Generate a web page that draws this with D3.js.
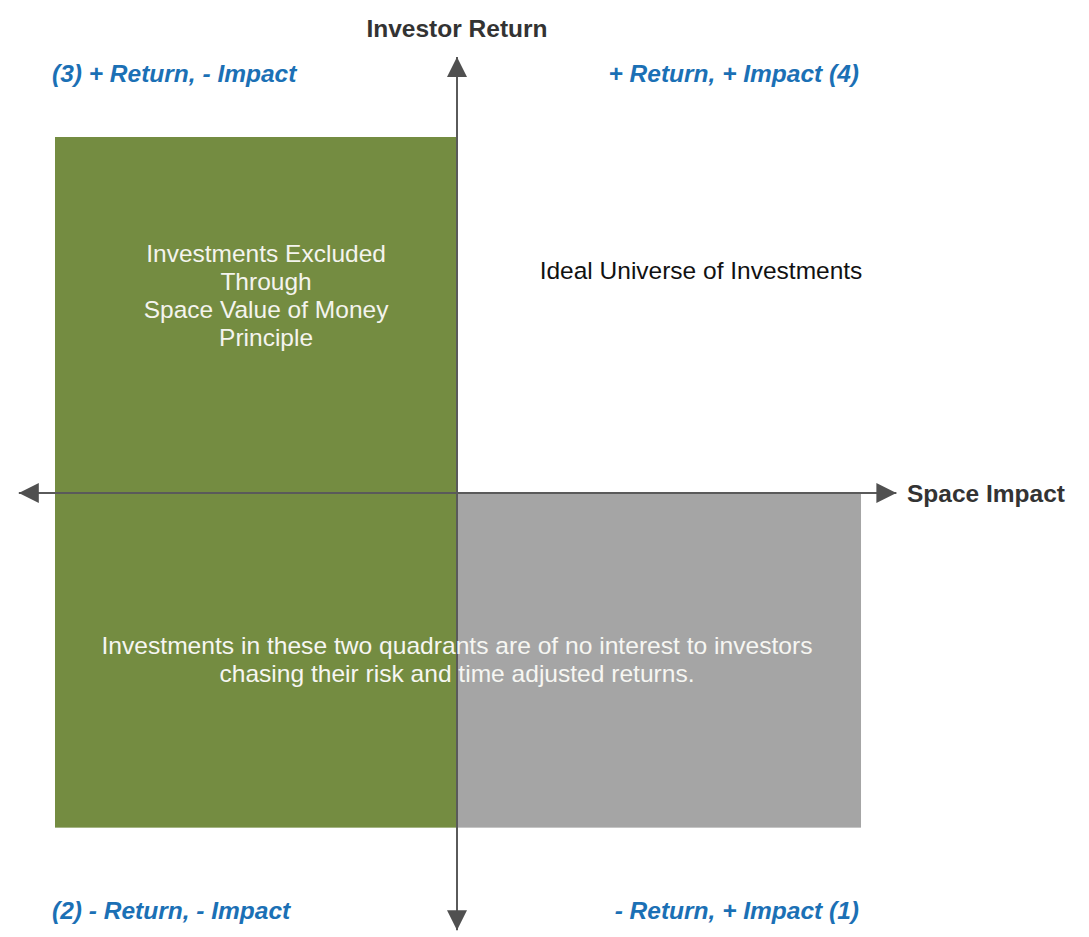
<!DOCTYPE html>
<html><head><meta charset="utf-8">
<script src="https://cdn.jsdelivr.net/npm/d3@7"></script>
<style>
body{margin:0;background:#fff;}
svg{display:block;}
text{font-family:"Liberation Sans", Arial, sans-serif;}
</style></head>
<body><svg id="chart" width="1089" height="937"></svg>
<script>
// Quadrant shaded regions (data units: x = Space Impact, y = Investor Return)
const regionNames = ["excluded", "noInterest"];
const regionX0 = [-1, 0];
const regionX1 = [0, 1.005];
const regionY0 = [-0.94, -0.94];
const regionY1 = [1, 0];
const regionColors = ["#748c41", "#a5a5a5"];

const axisTitles = ["Investor Return", "Space Impact"];
const quadrantLabels = ["(3) + Return, - Impact", "+ Return, + Impact (4)", "(2) - Return, - Impact", "- Return, + Impact (1)"];
const quadrantSide = [-1, 1, -1, 1];
const quadrantVert = [1, 1, -1, -1];

const excludedText = ["Investments Excluded", "Through", "Space Value of Money", "Principle"];
const idealText = ["Ideal Universe of Investments"];
const noInterestText = ["Investments in these two quadrants are of no interest to investors", "chasing their risk and time adjusted returns."];
const noInterestWidths = [711, 475];

const svg = d3.select("#chart");
const x = d3.scaleLinear().domain([-1, 1]).range([55, 859]);
const y = d3.scaleLinear().domain([-1, 1]).range([849, 137]);

// regions
svg.selectAll("rect.region").data(regionNames).enter().append("rect")
  .attr("class", "region")
  .attr("x", (d, i) => x(regionX0[i]))
  .attr("width", (d, i) => x(regionX1[i]) - x(regionX0[i]))
  .attr("y", (d, i) => y(regionY1[i]))
  .attr("height", (d, i) => y(regionY0[i]) - y(regionY1[i]))
  .attr("fill", (d, i) => regionColors[i]);

// arrow markers
const defs = svg.append("defs");
defs.append("marker").attr("id", "arr").attr("viewBox", "0 0 10 10")
  .attr("refX", 10).attr("refY", 5).attr("markerWidth", 26).attr("markerHeight", 20)
  .attr("markerUnits", "userSpaceOnUse").attr("orient", "auto")
  .append("path").attr("d", "M0,0 L10,5 L0,10 Z").attr("fill", "#505050");

const axisColor = "#5a5a5a";
svg.append("line").attr("x1", x(0)).attr("x2", x(1.093)).attr("y1", y(0)).attr("y2", y(0))
  .attr("stroke", axisColor).attr("stroke-width", 2).attr("marker-end", "url(#arr)");
svg.append("line").attr("x1", x(0)).attr("x2", x(-1.09)).attr("y1", y(0)).attr("y2", y(0))
  .attr("stroke", axisColor).attr("stroke-width", 2).attr("marker-end", "url(#arr)");
svg.append("line").attr("x1", x(0)).attr("x2", x(0)).attr("y1", y(0)).attr("y2", y(1.225))
  .attr("stroke", axisColor).attr("stroke-width", 2).attr("marker-end", "url(#arr)");
svg.append("line").attr("x1", x(0)).attr("x2", x(0)).attr("y1", y(0)).attr("y2", y(-1.228))
  .attr("stroke", axisColor).attr("stroke-width", 2).attr("marker-end", "url(#arr)");

// axis titles
svg.append("text").attr("x", x(0)).attr("y", 37).attr("text-anchor", "middle")
  .attr("font-weight", "bold").attr("font-size", 24.5).attr("fill", "#333").text(axisTitles[0]);
svg.append("text").attr("x", 907).attr("y", y(0)).attr("dy", "0.35em").attr("text-anchor", "start")
  .attr("font-weight", "bold").attr("font-size", 24.5).attr("fill", "#333").text(axisTitles[1]);

// quadrant labels
svg.selectAll("text.ql").data(quadrantLabels).enter().append("text")
  .attr("class", "ql")
  .attr("x", (d, i) => quadrantSide[i] < 0 ? 52 : 859)
  .attr("y", (d, i) => quadrantVert[i] > 0 ? 82 : 919)
  .attr("text-anchor", (d, i) => quadrantSide[i] < 0 ? "start" : "end")
  .attr("font-weight", "bold").attr("font-style", "italic").attr("font-size", 24.5).attr("fill", "#1b70b5")
  .text(d => d);

// excluded text
svg.selectAll("text.ex").data(excludedText).enter().append("text")
  .attr("class", "ex").attr("x", x(-0.475)).attr("y", (d, i) => 262 + i * 28)
  .attr("text-anchor", "middle").attr("font-size", 24.5).attr("fill", "#f4f4ee").text(d => d);

// ideal text
svg.selectAll("text.id").data(idealText).enter().append("text")
  .attr("class", "id").attr("x", 701).attr("y", 279)
  .attr("text-anchor", "middle").attr("font-size", 24.5).attr("fill", "#111").text(d => d);

// no interest text (condensed face)
svg.selectAll("text.ni").data(noInterestText).enter().append("text")
  .attr("class", "ni").attr("x", x(0)).attr("y", (d, i) => 654 + i * 28)
  .attr("text-anchor", "middle").attr("font-size", 24).attr("fill", "#f6f6f2")
  .attr("textLength", (d, i) => noInterestWidths[i]).attr("lengthAdjust", "spacingAndGlyphs")
  .text(d => d);
</script>
</body></html>
